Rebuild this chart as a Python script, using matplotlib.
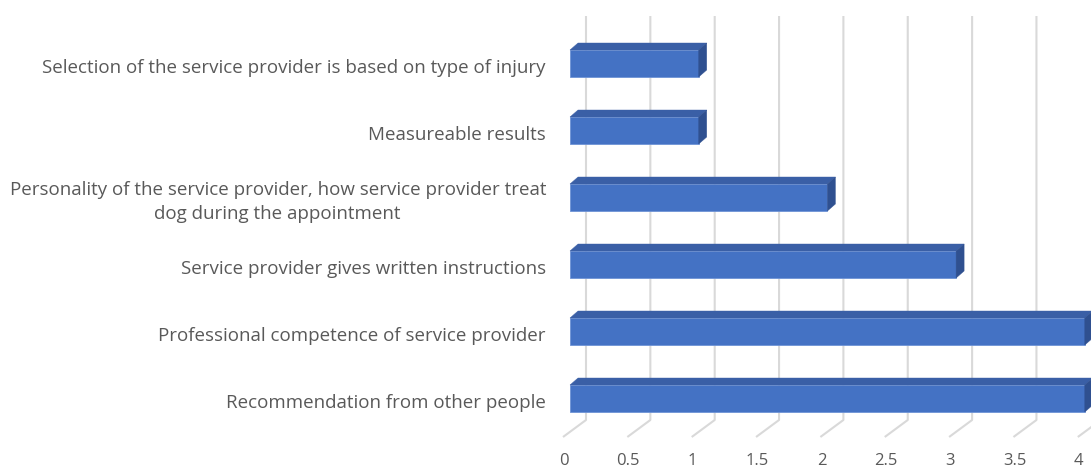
import matplotlib.pyplot as plt
from matplotlib.patches import Polygon

categories = [
    "Recommendation from other people",
    "Professional competence of service provider",
    "Service provider gives written instructions",
    "Personality of the service provider, how service provider treat\ndog during the appointment",
    "Measureable results",
    "Selection of the service provider is based on type of injury",
]
counts = [4, 4, 3, 2, 1, 1]
ticks = [0, 0.5, 1, 1.5, 2, 2.5, 3, 3.5, 4]
tick_labels = ["0", "0.5", "1", "1.5", "2", "2.5", "3", "3.5", "4"]

W, H = 1091, 470
X0, SX = 570, 128.7   # pixel of value 0 and pixels per unit
Y0, SY = 398.5, 67    # pixel (from top) of first bar centre and spacing

FRONT = "#4472C4"
TOP = "#3A5FA6"
SIDE = "#2F5090"
GRID = "#D9D9D9"
TEXT = "#595959"

plt.rcParams['font.family'] = ['Open Sans', 'DejaVu Sans']

fig = plt.figure(figsize=(W / 100, H / 100), dpi=100)
ax = fig.add_axes([0, 0, 1, 1])
ax.set_xlim(-X0 / SX, (W - X0) / SX)
ax.set_ylim((Y0 - H) / SY, Y0 / SY)
ax.axis("off")


def px_x(p):
    return (p - X0) / SX


def px_y(p):
    return (Y0 - p) / SY


# back wall gridlines with the slanted floor part
gx_back = 16 / SX
gx_front = -7 / SX
for t, lab in zip(ticks, tick_labels):
    ax.plot([t + gx_back, t + gx_back, t + gx_front],
            [px_y(16), px_y(420), px_y(437)],
            color=GRID, lw=1.5, zorder=1, solid_capstyle="butt")
    ax.text(t - 6 / SX, px_y(461), lab,
            ha="center", va="center", fontsize=12, color=TEXT)

# 3d-looking bars: front face, top face, right face
h = 27 / SY
ddx, ddy = 8 / SX, 7 / SY
for i, v in enumerate(counts):
    lo, hi = i - h / 2, i + h / 2
    ax.add_patch(Polygon([(0, lo), (v, lo), (v, hi), (0, hi)],
                         closed=True, fc=FRONT, ec="#6E93D6", lw=0.6, zorder=3))
    ax.add_patch(Polygon([(0, hi), (v, hi), (v + ddx, hi + ddy), (ddx, hi + ddy)],
                         closed=True, fc=TOP, ec=TOP, lw=0.3, zorder=3))
    ax.add_patch(Polygon([(v, lo), (v, hi), (v + ddx, hi + ddy), (v + ddx, lo + ddy)],
                         closed=True, fc=SIDE, ec=SIDE, lw=0.3, zorder=3))
    ax.text(px_x(546), i - 4.5 / SY, categories[i], ha="right", va="center",
            multialignment="center", fontsize=13.5, color=TEXT, linespacing=1.38)

fig.savefig("out.png", dpi=100)
